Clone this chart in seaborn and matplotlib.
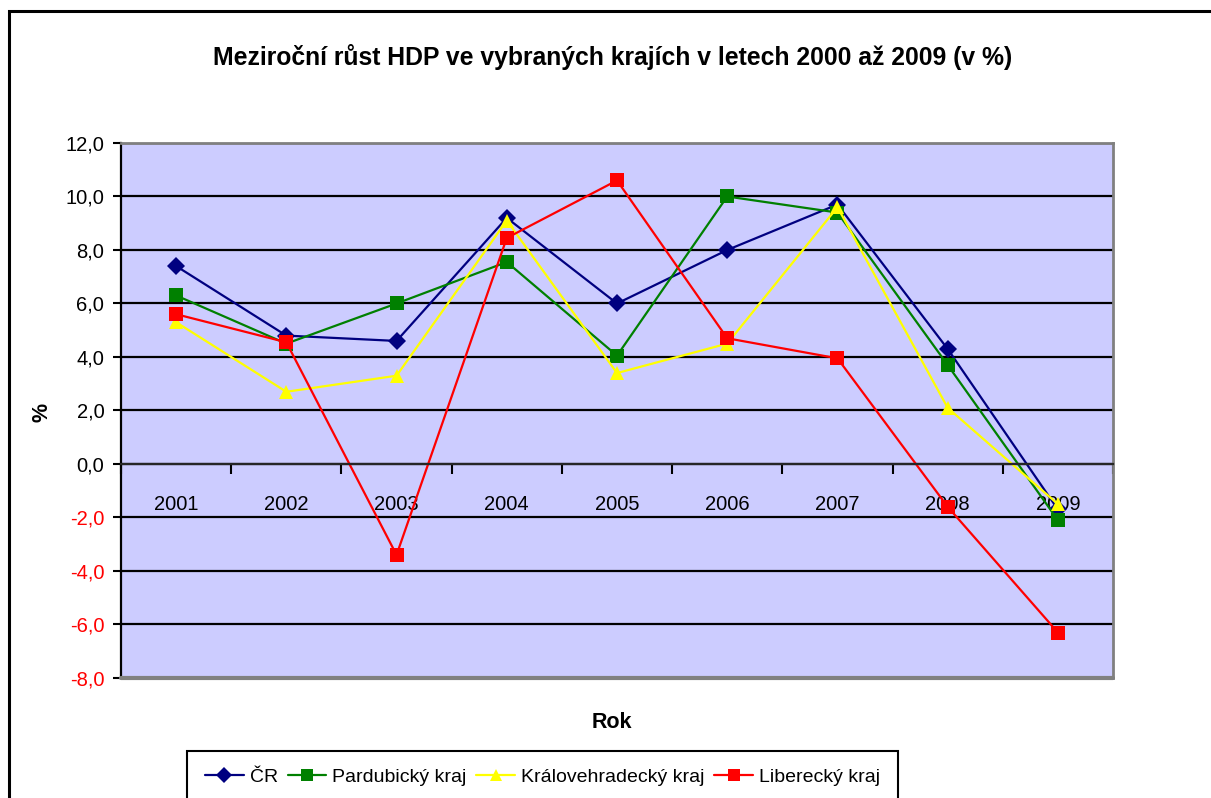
import pandas as pd
import seaborn as sns
import matplotlib.pyplot as plt
from matplotlib.patches import Rectangle
from matplotlib.ticker import FixedLocator, FuncFormatter

roky = ["2001", "2002", "2003", "2004", "2005", "2006", "2007", "2008", "2009"]
cr = [7.4, 4.8, 4.6, 9.2, 6.0, 8.0, 9.7, 4.3, -1.7]
pardubicky = [6.3, 4.5, 6.0, 7.55, 4.05, 10.0, 9.4, 3.7, -2.1]
kralovehradecky = [5.3, 2.7, 3.3, 9.1, 3.4, 4.5, 9.6, 2.1, -1.5]
liberecky = [5.6, 4.55, -3.4, 8.45, 10.6, 4.7, 3.95, -1.6, -6.3]

kraje = ["ČR", "Pardubický kraj", "Královehradecký kraj", "Liberecký kraj"]
barvy = ["#000080", "#008000", "#FFFF00", "#FF0000"]
znacky = ["D", "s", "^", "s"]

df = pd.DataFrame({"Rok": roky, "ČR": cr, "Pardubický kraj": pardubicky,
                   "Královehradecký kraj": kralovehradecky, "Liberecký kraj": liberecky})
df = df.melt(id_vars="Rok", var_name="kraj", value_name="hodnota")

sns.set_style("white")
plt.rcParams['font.family'] = ['Liberation Sans', 'DejaVu Sans']
plt.rcParams['text.color'] = 'black'
plt.rcParams['xtick.color'] = 'black'
plt.rcParams['ytick.color'] = 'black'
plt.rcParams['axes.labelcolor'] = 'black'

fig = plt.figure(figsize=(12.11, 7.98), dpi=100)
ax = fig.add_axes([0.0999, 0.1504, 0.8192, 0.6704])
ax.set_facecolor("#CCCCFF")

sns.lineplot(data=df, x="Rok", y="hodnota", hue="kraj", style="kraj",
             hue_order=kraje, style_order=kraje, palette=barvy,
             markers=znacky, dashes=False, linewidth=1.6, markersize=9.5,
             markeredgewidth=0, ax=ax, sort=False)

ax.set_xlim(-0.5, 8.5)
ax.set_ylim(-8, 12)
ax.set_yticks(range(-8, 13, 2))
ax.yaxis.set_major_formatter(FuncFormatter(lambda v, p: f"{v:.1f}".replace(".", ",")))
for lab in ax.get_yticklabels():
    if float(lab.get_text().replace(",", ".").replace("−", "-")) < 0:
        lab.set_color("red")
ax.grid(axis="y", color="black", linewidth=1.6)
ax.set_axisbelow(True)

ax.spines["bottom"].set_position(("data", 0))
ax.spines["bottom"].set_linewidth(1.6)
ax.spines["left"].set_color("black")
ax.spines["left"].set_linewidth(1.6)
for s in ["top", "right"]:
    ax.spines[s].set_color("#808080")
    ax.spines[s].set_linewidth(2)
ax.axhline(-8, color="#808080", linewidth=3, clip_on=False, zorder=5)

ax.tick_params(axis="y", direction="out", length=6, width=1.5, color="black",
               labelsize=14.5, pad=6, left=True)
ax.tick_params(axis="x", which="major", length=0, labelsize=14.5, pad=22)
ax.xaxis.set_minor_locator(FixedLocator([i + 0.5 for i in range(-1, 9)]))
ax.tick_params(axis="x", which="minor", direction="out", length=7, width=1.5,
               color="black", bottom=True)

ax.set_xlabel("")
ax.set_ylabel("")
fig.text(0.505, 0.095, "Rok", ha="center", va="center", fontsize=15.5, fontweight="bold")
fig.text(0.035, 0.483, "%", ha="center", va="center", fontsize=15.5, fontweight="bold",
         rotation=90)
fig.text(0.506, 0.928, "Meziroční růst HDP ve vybraných krajích v letech 2000 až 2009 (v %)",
         ha="center", va="center", fontsize=17.8, fontweight="bold")

ax.legend(title=None, loc="upper center", bbox_to_anchor=(0.448, 0.059),
          bbox_transform=fig.transFigure, borderaxespad=0, ncol=4, fontsize=14,
          frameon=True, fancybox=False, edgecolor="black", framealpha=1,
          handlelength=2.0, handletextpad=0.3, columnspacing=0.5, borderpad=0.9,
          markerscale=0.85)
ax.get_legend().get_frame().set_linewidth(1.5)

fig.patches.append(Rectangle((0.0074, -0.05), 1.1, 1.05 - 11 / 798, transform=fig.transFigure,
                             fill=False, edgecolor="black", linewidth=2.2))

fig.savefig("out.png", dpi=100)
